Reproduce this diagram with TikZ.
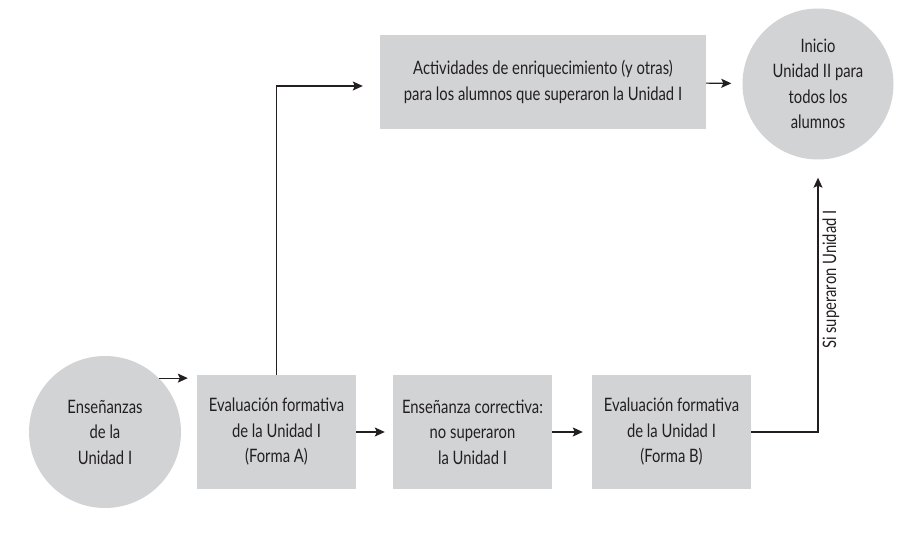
\documentclass[tikz,border=0pt]{standalone}
\usepackage{fontspec}
\setmainfont{Lato}[FakeStretch=0.8]
\usetikzlibrary{arrows.meta}
\usetikzlibrary{calc}
\usetikzlibrary{positioning}

\definecolor{boxgray}{RGB}{210,211,213}
\definecolor{inkgray}{RGB}{35,31,32}

\tikzset{
  every node/.style={text=inkgray, font=\fontsize{18.5}{25.5}\selectfont},
  stage/.style={rectangle, fill=boxgray, align=center, inner sep=0pt},
  milestone/.style={circle, fill=boxgray, align=center, inner sep=0pt},
  lbltxt/.style={rotate=90, anchor=north, inner sep=4pt},
  flow/.style={draw=inkgray, line width=1.1pt, ->, >={Stealth[length=10pt,width=9pt,inset=2pt]}}
}

\begin{document}
\begin{tikzpicture}[x=1pt,y=1pt]
  \useasboundingbox (0,0) rectangle (906,533);

  \node [milestone, minimum size=152pt] (C1) at (105,101) {Enseñanzas\\de la\\Unidad I};
  \node [stage, minimum width=159pt, minimum height=114pt] (A) at (276.5,101)
    {Evaluación formativa\\de la Unidad I\\(Forma A)};
  \node [stage, minimum width=159pt, minimum height=114pt] (C) at (472.5,101)
    {Enseñanza correctiva:\\no superaron\\la Unidad I};
  \node [stage, minimum width=159pt, minimum height=114pt] (B) at (671.5,101)
    {Evaluación formativa\\de la Unidad I\\(Forma B)};

  \node [stage, minimum width=326pt, minimum height=94pt] (T) at (543,451)
    {Actividades de enriquecimiento (y otras)\\para los alumnos que superaron la Unidad I};
  \node [milestone, minimum size=151pt] (I) at (818,449)
    {Inicio\\Unidad II para\\todos los\\alumnos};

  \draw [flow, shorten >=9pt] (C1.45) -- (C1.45 -| A.west);
  \draw [flow, shorten >=8pt] (A) -- (C);
  \draw [flow, shorten >=9pt] (C) -- (B);
  \draw [flow, shorten >=11pt] (T) -- (I);

  \draw [flow, shorten >=17pt] (A.north) |- ($(T.west)+(0,-4)$);
  \draw [flow, shorten >=18pt]
    (B.east) -| node [lbltxt, pos=0.78] {Si superaron Unidad I} (I.south);
\end{tikzpicture}
\end{document}
